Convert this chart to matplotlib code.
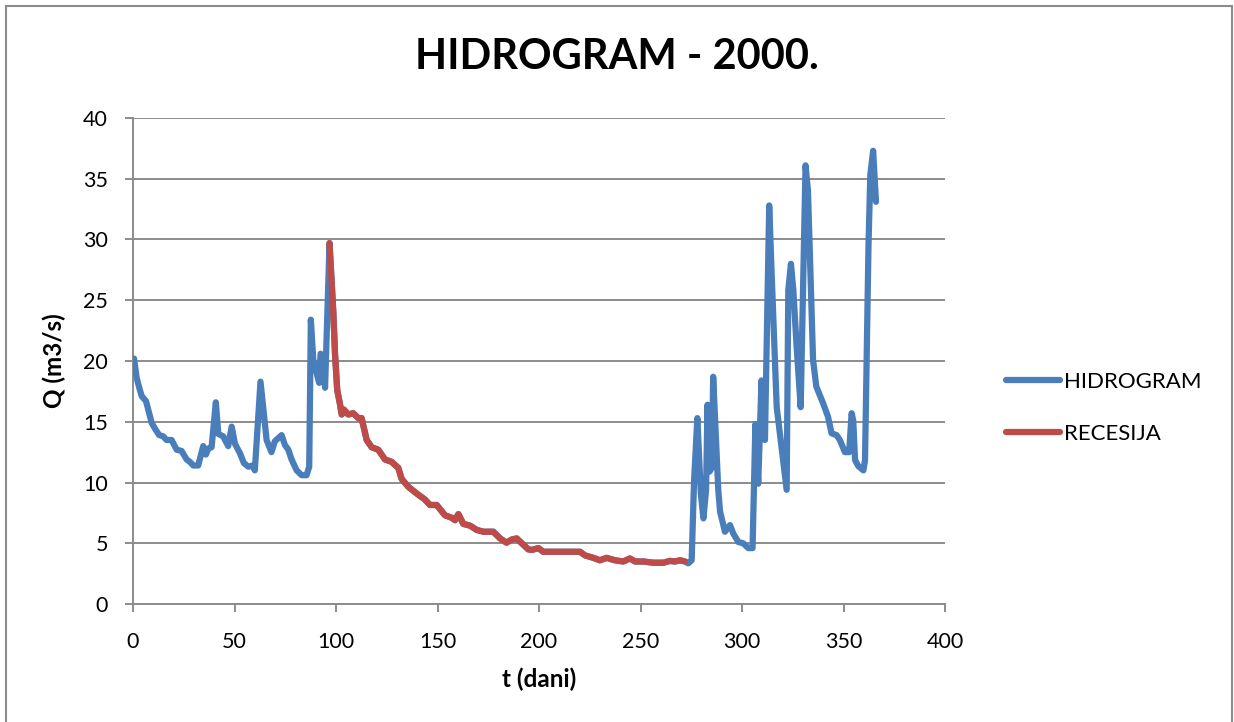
import matplotlib
matplotlib.use('Agg')
import matplotlib.pyplot as plt
from matplotlib.patches import Rectangle

# HIDROGRAM - prelomne tacke (dan, Q)
hid_dan = [0.5, 1.8, 3.4, 4.3, 6.4, 8.4, 9.2, 11.3, 12.9, 14.9, 16.5, 19, 21.5, 23.9,
           26.4, 28, 29.7, 32.1, 34.6, 35.9, 37.1, 38.7, 40.8, 42, 44.4, 46.9, 48.6,
           50.2, 52.7, 54.6, 56.8, 58.9, 60, 62.8, 65.8, 68.2, 69.9, 73.2, 74.8, 76.5,
           78.1, 80.6, 83.1, 85.5, 86.8, 87.6, 88.8, 91.7, 92.4, 93.4, 94.6, 96.8,
           98.7, 99.5, 100.6, 101.9, 102.8, 103.9, 106, 108.5, 111, 112.6, 115.1,
           117.6, 120.8, 124.1, 127.4, 130.7, 132.3, 135.6, 139.7, 143.8, 146.3,
           149.6, 153.7, 157, 158.6, 160.3, 162.7, 166, 169.3, 172.6, 177.5, 180.8,
           184, 186.5, 189, 191.5, 194.7, 196.4, 199.7, 202.1, 210.3, 215.3, 220.2,
           222.7, 226.8, 230, 233.3, 237.4, 241.5, 244.8, 247.3, 251.4, 256.3, 261.3,
           264.5, 267, 269.5, 271.9, 273.5, 275.2, 276.4, 278, 279.7, 281, 282.3, 283,
           284, 285.1, 285.8, 288.3, 289.2, 291.6, 294.1, 295.7, 298.2, 300.6, 303.1,
           305.2, 306.6, 308, 309.6, 311.3, 313.4, 314.6, 316.3, 317.1, 318.7, 322,
           322.8, 324.1, 325.3, 326.9, 328.9, 331.3, 332.5, 335, 336.6, 340, 342.4,
           344.1, 346.6, 348.2, 350.7, 352.8, 354, 354.8, 355.7, 357.3, 359.8, 360.6,
           362.3, 363.2, 364.6, 366]
hid_q = [20.2, 18.6, 17.6, 17.1, 16.7, 15.4, 14.9, 14.3, 13.9, 13.8, 13.5, 13.5, 12.7,
         12.6, 11.9, 11.7, 11.4, 11.4, 13.0, 12.3, 12.8, 12.9, 16.6, 14.0, 13.8, 13.0,
         14.6, 13.2, 12.4, 11.6, 11.3, 11.4, 11.0, 18.3, 13.5, 12.5, 13.4, 13.9, 13.1,
         12.7, 11.9, 11.0, 10.6, 10.6, 11.3, 23.4, 20.1, 18.2, 20.6, 20.4, 17.8, 29.7,
         23.9, 20.6, 17.6, 16.5, 15.6, 16.0, 15.6, 15.7, 15.3, 15.3, 13.5,
         12.9, 12.7, 11.9, 11.7, 11.2, 10.3, 9.65, 9.1, 8.6, 8.15,
         8.15, 7.3, 7.1, 6.9, 7.4, 6.6, 6.45, 6.1, 5.95, 5.95, 5.4,
         5.05, 5.3, 5.4, 5.0, 4.5, 4.45, 4.6, 4.3, 4.3, 4.3, 4.3,
         4.0, 3.8, 3.6, 3.8, 3.6, 3.5, 3.75, 3.5, 3.5, 3.4, 3.4,
         3.55, 3.5, 3.6, 3.5, 3.35, 3.6, 10.2, 15.3, 9.1, 7.05, 9.4, 16.4,
         10.9, 11.2, 18.7, 9.4, 7.6, 5.95, 6.5, 5.8, 5.1, 5.0, 4.6,
         4.6, 14.8, 9.9, 18.4, 13.5, 32.8, 27.2, 19.8, 16.2, 14.0, 9.4,
         25.8, 28.0, 25.8, 21.2, 16.2, 36.1, 34.0, 20.1, 17.9, 16.5, 15.4,
         14.05, 13.9, 13.5, 12.5, 12.5, 15.7, 15.1, 11.85, 11.35, 11.0, 11.85,
         29.4, 35.3, 37.3, 33.1]

# RECESIJA - od vrha do kraja recesije
rec_od, rec_do = 96.8, 271.9

rec_dan = [d for d in hid_dan if rec_od <= d <= rec_do]
rec_q = [q for d, q in zip(hid_dan, hid_q) if rec_od <= d <= rec_do]

plt.rcParams['font.family'] = ['Lato', 'DejaVu Sans']

fig = plt.figure(figsize=(12.34, 7.22), dpi=100)
ax = fig.add_axes([0.1078, 0.1634, 0.658, 0.6732])

ax.plot(hid_dan, hid_q, color='#4A7EBB', lw=4.5, solid_joinstyle='round',
        solid_capstyle='round', label='HIDROGRAM', zorder=3)
ax.plot(rec_dan, rec_q, color='#BE4B48', lw=4.5, solid_joinstyle='round',
        solid_capstyle='round', label='RECESIJA', zorder=4)

ax.set_xlim(0, 400)
ax.set_ylim(0, 40)
ax.set_xticks(range(0, 401, 50))
ax.set_yticks(range(0, 41, 5))
ax.grid(axis='y', color='#8C8C8C', lw=1.4)
ax.set_axisbelow(True)
for s in ['top', 'right']:
    ax.spines[s].set_visible(False)
for s in ['left', 'bottom']:
    ax.spines[s].set_color('#8C8C8C')
    ax.spines[s].set_linewidth(1.4)
ax.tick_params(axis='both', colors='#8C8C8C', labelcolor='black', labelsize=15.5,
               length=6, width=1.4, direction='out')
ax.tick_params(axis='y', pad=12)
ax.tick_params(axis='x', pad=14)

ax.set_xlabel('t (dani)', fontsize=17.5, fontweight='bold', labelpad=11)
ax.set_ylabel('Q (m3/s)', fontsize=17.5, fontweight='bold', labelpad=12)
fig.suptitle('HIDROGRAM - 2000.', fontsize=30, fontweight='bold', x=0.5, y=0.948)

ax.legend(loc='center left', bbox_to_anchor=(1.051, 0.404), frameon=False,
          fontsize=16, handlelength=2.4, handletextpad=0.2, labelspacing=1.45)

fig.patches.append(Rectangle((6 / 1234, -0.05), 1226 / 1234, 1.05 - 6 / 722,
                             transform=fig.transFigure, fill=False,
                             edgecolor='#8C8C8C', lw=1.5))

fig.savefig('out.png', dpi=100)
